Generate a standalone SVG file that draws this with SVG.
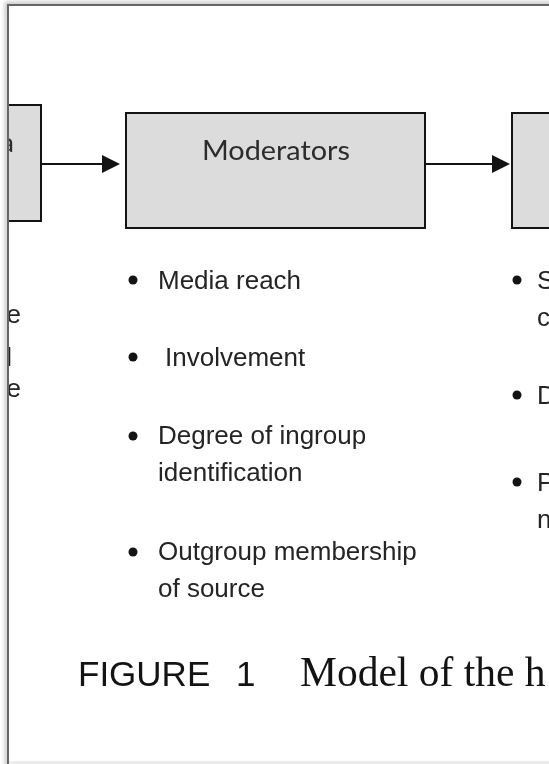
<svg xmlns="http://www.w3.org/2000/svg" width="549" height="764" viewBox="0 0 549 764">
  <style>
    .box { fill: #dcdcdc; stroke: #111; stroke-width: 2; }
    .link { stroke: #111; stroke-width: 2; fill: none; }
    .head { fill: #111; }
    .item { font-family: "Liberation Sans", Arial, sans-serif; font-size: 26px; fill: #222; }
    .dot { fill: #111; }
    .title { font-family: Lato, "Open Sans", sans-serif; font-size: 27px; fill: #2a2a2a; }
    .cap-sans { font-family: "Liberation Sans", Arial, sans-serif; font-size: 35px; fill: #111; }
    .cap-serif { font-family: "Liberation Serif", "Times New Roman", serif; font-size: 41.5px; fill: #111; }
  </style>
  <defs>
    <filter id="soft" x="-5%" y="-5%" width="110%" height="110%">
      <feGaussianBlur stdDeviation="2"/>
    </filter>
    <clipPath id="page">
      <rect x="9" y="6" width="560" height="760"/>
    </clipPath>
  </defs>

  <rect x="0" y="0" width="549" height="764" fill="#ffffff"/>

  <!-- page shadow and frame -->
  <rect x="7" y="4" width="560" height="770" fill="none" stroke="#bdbdbd" stroke-width="4" filter="url(#soft)"/>
  <rect x="8" y="5" width="560" height="770" fill="#ffffff" stroke="#666" stroke-width="2"/>
  <rect x="9" y="761" width="540" height="3" fill="#ececec"/>

  <g clip-path="url(#page)" opacity="0.99">
    <!-- connectors -->
    <g id="connectors">
      <line class="link" x1="41" y1="164" x2="104" y2="164"/>
      <polygon class="head" points="102,155 120,164 102,173"/>
      <line class="link" x1="425" y1="164" x2="494" y2="164"/>
      <polygon class="head" points="492,155 510,164 492,173"/>
    </g>

    <!-- left node (cut off by the page edge) -->
    <g id="node-left">
      <rect class="box" x="-60" y="105" width="101" height="116"/>
      <text class="title" x="14" y="152" text-anchor="end">a</text>
      <text class="item" x="21" y="323" text-anchor="end">e</text>
      <text class="item" x="12" y="366" text-anchor="end">l</text>
      <text class="item" x="21" y="397" text-anchor="end">pe</text>
    </g>

    <!-- moderators node -->
    <g id="node-moderators">
      <rect class="box" x="126" y="113" width="299" height="115"/>
      <text class="title" x="276" y="160" text-anchor="middle" textLength="148" lengthAdjust="spacingAndGlyphs">Moderators</text>
      <circle class="dot" cx="133" cy="280" r="4.5"/>
      <text class="item" x="158" y="289">Media reach</text>
      <circle class="dot" cx="133" cy="357" r="4.5"/>
      <text class="item" x="165" y="366">Involvement</text>
      <circle class="dot" cx="133" cy="436" r="4.5"/>
      <text class="item" x="158" y="444">Degree of ingroup</text>
      <text class="item" x="158" y="481">identification</text>
      <circle class="dot" cx="133" cy="552" r="4.5"/>
      <text class="item" x="158" y="560">Outgroup membership</text>
      <text class="item" x="158" y="597">of source</text>
    </g>

    <!-- right node (cut off by the page edge) -->
    <g id="node-right">
      <rect class="box" x="512" y="113" width="80" height="115"/>
      <circle class="dot" cx="517" cy="280" r="4.5"/>
      <text class="item" x="537" y="289">S</text>
      <text class="item" x="537" y="326">c</text>
      <circle class="dot" cx="517" cy="395" r="4.5"/>
      <text class="item" x="537" y="404">D</text>
      <circle class="dot" cx="517" cy="482" r="4.5"/>
      <text class="item" x="537" y="491">P</text>
      <text class="item" x="537" y="528">n</text>
    </g>

    <!-- caption -->
    <g id="caption">
      <text class="cap-sans" x="78" y="686">FIGURE</text>
      <text class="cap-sans" x="236" y="686">1</text>
      <text class="cap-serif" x="300" y="686">Model of the h</text>
    </g>
  </g>
</svg>
